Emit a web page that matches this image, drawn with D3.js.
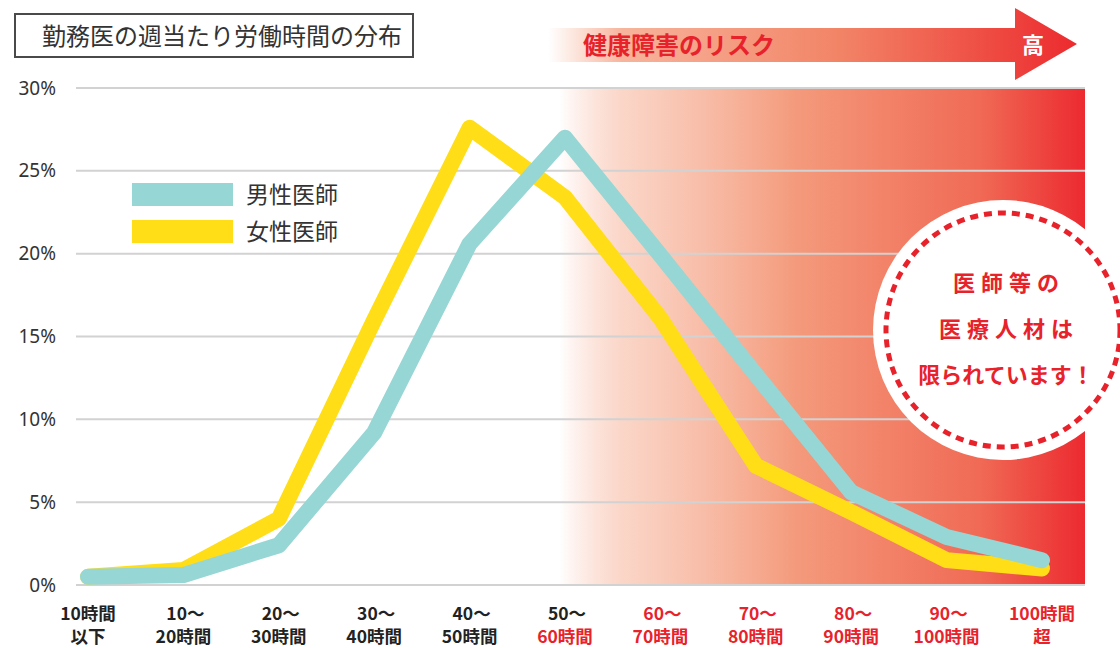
<!DOCTYPE html>
<html>
<head>
<meta charset="utf-8">
<script src="https://cdn.jsdelivr.net/npm/d3@7/dist/d3.min.js"></script>
<style>
  body { margin: 0; background: #fff; }
  svg { display: block; font-family: "Noto Sans CJK JP", "Noto Sans", sans-serif; }
</style>
</head>
<body>
<svg id="chart" width="1120" height="648"></svg>
<script>
// 勤務医の週当たり労働時間の分布 (values in %)
const categories = ["10時間以下", "10〜20時間", "20〜30時間", "30〜40時間", "40〜50時間",
  "50〜60時間", "60〜70時間", "70〜80時間", "80〜90時間", "90〜100時間", "100時間超"];
const labelLines = [
  ["10時間", "以下"], ["10〜", "20時間"], ["20〜", "30時間"], ["30〜", "40時間"],
  ["40〜", "50時間"], ["50〜", "60時間"], ["60〜", "70時間"], ["70〜", "80時間"],
  ["80〜", "90時間"], ["90〜", "100時間"], ["100時間", "超"]
];
const maleValues   = [0.5, 0.6, 2.4, 9.2, 20.6, 27.0, 19.9, 12.7, 5.6, 2.9, 1.5];
const femaleValues = [0.5, 0.9, 4.0, 16.0, 27.6, 23.4, 16.1, 7.2, 4.4, 1.5, 1.0];
const yTicks = [0, 5, 10, 15, 20, 25, 30];
const seriesNames = ["男性医師", "女性医師"];
const riskStart = 5; // risk shading starts at the 50〜60h point

const svg = d3.select("#chart");
const red = "#e8222b";
const teal = "#96d6d4";
const yellow = "#ffdd17";

const x = d3.scalePoint().domain(categories).range([88, 1042]);
const y = d3.scaleLinear().domain([0, 30]).range([585, 88]);
const gridLeft = 76, gridRight = 1085;

const defs = svg.append("defs");
const band = defs.append("linearGradient").attr("id", "band")
  .attr("x1", "0%").attr("x2", "100%");
band.append("stop").attr("offset", "0%").attr("stop-color", "#f59a7c").attr("stop-opacity", 0);
band.append("stop").attr("offset", "12%").attr("stop-color", "#f7b49a").attr("stop-opacity", 0.55);
band.append("stop").attr("offset", "45%").attr("stop-color", "#f49a7c");
band.append("stop").attr("offset", "80%").attr("stop-color", "#f06a55");
band.append("stop").attr("offset", "100%").attr("stop-color", "#ec2a30");

const arrowGrad = defs.append("linearGradient").attr("id", "arrowGrad")
  .attr("gradientUnits", "userSpaceOnUse").attr("x1", 548).attr("x2", 1078).attr("y1", 0).attr("y2", 0);
arrowGrad.append("stop").attr("offset", "0%").attr("stop-color", "#f8b8a0").attr("stop-opacity", 0);
arrowGrad.append("stop").attr("offset", "14%").attr("stop-color", "#f7b49c");
arrowGrad.append("stop").attr("offset", "55%").attr("stop-color", "#f28466");
arrowGrad.append("stop").attr("offset", "100%").attr("stop-color", "#ec2a2e");

// risk band
const bandX = x(categories[riskStart]) - 6;
svg.append("rect")
  .attr("x", bandX).attr("y", y(30))
  .attr("width", gridRight - bandX).attr("height", y(0) - y(30))
  .attr("fill", "url(#band)");

// gridlines
svg.append("g").selectAll("line").data(yTicks).join("line")
  .attr("x1", gridLeft).attr("x2", gridRight)
  .attr("y1", d => y(d)).attr("y2", d => y(d))
  .attr("stroke", "#d2d2d2").attr("stroke-width", 2);

// y axis labels
const yAxis = d3.axisLeft(y).tickValues(yTicks).tickSize(0).tickPadding(0)
  .tickFormat(d => d + "%");
svg.append("g").attr("transform", "translate(56,0)").call(yAxis)
  .call(g => g.select(".domain").remove())
  .selectAll("text")
  .attr("font-size", 19).attr("fill", "#333")
  .attr("font-family", "'Noto Sans', 'Noto Sans CJK JP', sans-serif");

// x labels
const xl = svg.append("g").selectAll("text").data(categories).join("text")
  .attr("x", d => x(d)).attr("text-anchor", "middle")
  .attr("font-size", 17.5).attr("font-weight", 700);
xl.each(function(d, i) {
  const t = d3.select(this);
  labelLines[i].forEach((ln, j) => {
    const isRed = i > riskStart || (i === riskStart && j === 1);
    t.append("tspan").attr("x", x(d) + (j === 0 && ln.endsWith("〜") ? 2 : 0))
      .attr("y", j === 0 ? 620 : 643)
      .attr("fill", isRed ? red : "#222")
      .text(ln);
  });
});

// lines
const line = d3.line().x((d, i) => x(categories[i])).y(d => y(d));
[[femaleValues, yellow], [maleValues, teal]].forEach(([vals, c]) => {
  svg.append("path").datum(vals)
    .attr("d", line).attr("fill", "none")
    .attr("stroke", c).attr("stroke-width", 16)
    .attr("stroke-linejoin", "round").attr("stroke-linecap", "round");
});

// legend
const legend = svg.append("g").attr("transform", "translate(132,183)");
[teal, yellow].forEach((c, i) => {
  legend.append("rect").attr("x", 0).attr("y", i * 37).attr("width", 101).attr("height", 23).attr("fill", c);
  legend.append("text").attr("x", 114).attr("y", i * 37 + 20)
    .attr("font-size", 23).attr("fill", "#333").text(seriesNames[i]);
});

// title box
svg.append("rect").attr("x", 15).attr("y", 14).attr("width", 398).attr("height", 43)
  .attr("fill", "#fff").attr("stroke", "#4a4a4a").attr("stroke-width", 2);
svg.append("text").attr("x", 222).attr("y", 45).attr("text-anchor", "middle")
  .attr("font-size", 24).attr("fill", "#333").text("勤務医の週当たり労働時間の分布");

// risk arrow
svg.append("path")
  .attr("d", d3.line()([[548, 28], [1015, 28], [1015, 8], [1077, 44], [1015, 80], [1015, 62], [548, 62]]) + "Z")
  .attr("fill", "url(#arrowGrad)");
svg.append("text").attr("x", 583).attr("y", 54)
  .attr("font-size", 24).attr("font-weight", 700).attr("fill", red).text("健康障害のリスク");
svg.append("text").attr("x", 1033).attr("y", 53).attr("text-anchor", "middle")
  .attr("font-size", 22).attr("font-weight", 700).attr("fill", "#fff").text("高");

// callout circle
const cx = 1003, cy = 330;
svg.append("circle").attr("cx", cx).attr("cy", cy).attr("r", 130).attr("fill", "#fff");
svg.append("circle").attr("cx", cx).attr("cy", cy).attr("r", 117).attr("fill", "none")
  .attr("stroke", red).attr("stroke-width", 5).attr("stroke-dasharray", "8 6");
const callout = ["医師等の", "医療人材は", "限られています！"];
svg.append("g").selectAll("text").data(callout).join("text")
  .attr("x", (d, i) => cx + (i === 2 ? 3 : 6)).attr("y", (d, i) => 291 + i * 46)
  .attr("text-anchor", "middle").attr("font-size", 22).attr("font-weight", 700)
  .attr("letter-spacing", (d, i) => i === 2 ? 0 : 6)
  .attr("fill", red).text(d => d);
</script>
</body>
</html>
